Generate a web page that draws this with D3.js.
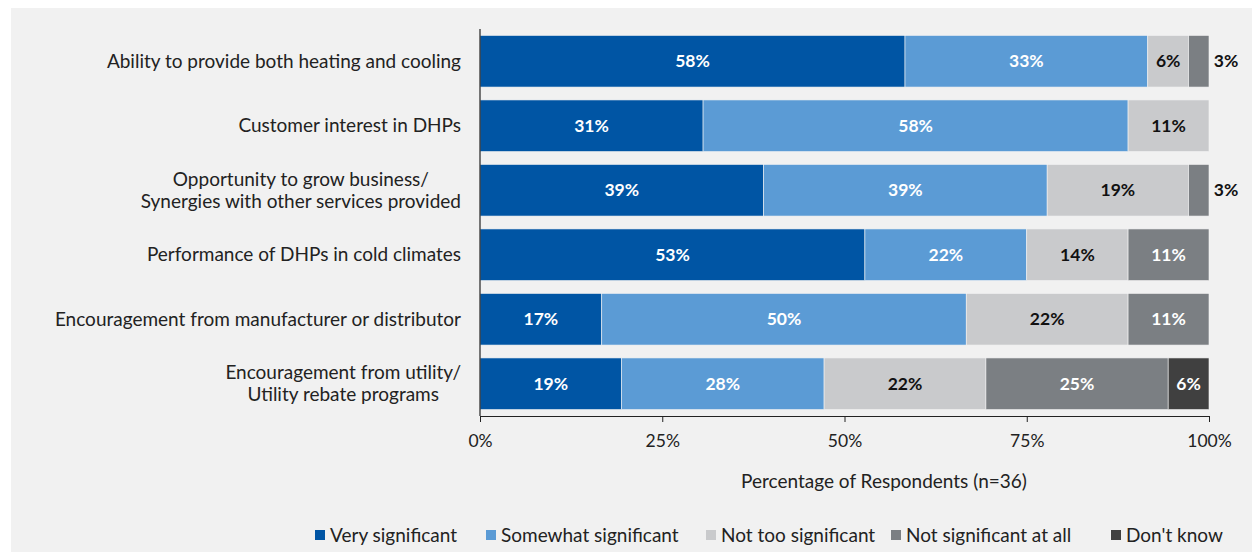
<!DOCTYPE html>
<html><head><meta charset="utf-8">
<script src="https://cdn.jsdelivr.net/npm/d3@7/dist/d3.min.js"></script>
<style>
html,body{margin:0;padding:0;background:#fff;}
svg{display:block;font-family:Lato,"Open Sans",sans-serif;}
</style></head>
<body>
<svg id="chart" width="1252" height="552"></svg>
<script>
const categories = [
  ["Ability to provide both heating and cooling"],
  ["Customer interest in DHPs"],
  ["Opportunity to grow business/", "Synergies with other services provided"],
  ["Performance of DHPs in cold climates"],
  ["Encouragement from manufacturer or distributor"],
  ["Encouragement from utility/", "Utility rebate programs"]
];
const seriesNames = ["Very significant","Somewhat significant","Not too significant","Not significant at all","Don't know"];
const verySignificant     = [58.3, 30.6, 38.9, 52.8, 16.7, 19.4];
const somewhatSignificant = [33.3, 58.3, 38.9, 22.2, 50.0, 27.8];
const notTooSignificant   = [5.6, 11.1, 19.4, 13.9, 22.2, 22.2];
const notSignificantAtAll = [2.8, 0, 2.8, 11.1, 11.1, 25.0];
const dontKnow            = [0, 0, 0, 0, 0, 5.6];
const xTicks = [0, 25, 50, 75, 100];
const axisTitle = "Percentage of Respondents (n=36)";

const colors = ["#0055A4","#5B9BD5","#C9CACC","#7B7F83","#404040"];
const labelColors = ["#fff","#fff","#111","#fff","#fff"];
const seriesVals = [verySignificant, somewhatSignificant, notTooSignificant, notSignificantAtAll, dontKnow];

const svg = d3.select("#chart");
svg.append("rect").attr("x",11).attr("y",8).attr("width",1241).attr("height",544).attr("fill","#F1F1F1");

const x = d3.scaleLinear().domain([0,100]).range([480,1209]);
const y = d3.scaleBand().domain(d3.range(categories.length)).range([29,416]).paddingInner(0.2).paddingOuter(0.1);

const rows = categories.map((c,i)=>{
  let acc = 0;
  return seriesVals.map((s,k)=>{ const v=s[i]; const seg={i,k,x0:acc,x1:acc+v,v}; acc+=v; return seg; });
});

const g = svg.append("g");
rows.forEach(r=>{
  g.selectAll(null).data(r.filter(d=>d.v>0)).enter().append("rect")
    .attr("x",d=>x(d.x0)).attr("width",d=>x(d.x1)-x(d.x0))
    .attr("y",d=>y(d.i)).attr("height",y.bandwidth())
    .attr("fill",d=>colors[d.k])
    .attr("stroke","#f4f4f4").attr("stroke-width",0.6);
  r.filter(d=>d.v>0).forEach(d=>{
    const w = x(d.x1)-x(d.x0);
    const outside = w < 25;
    g.append("text")
      .attr("x", outside ? x(100)+17 : (x(d.x0)+x(d.x1))/2)
      .attr("y", y(d.i)+y.bandwidth()/2)
      .attr("dy","0.35em").attr("text-anchor","middle")
      .attr("font-size",17.5).attr("font-weight","bold")
      .attr("fill", outside ? "#111" : labelColors[d.k])
      .text(Math.round(d.v)+"%");
  });
});

categories.forEach((lines,i)=>{
  const t = svg.append("text").attr("font-size",19).attr("fill","#222");
  const cy = y(i)+y.bandwidth()/2;
  const lh = 22;
  const spans = lines.map((l,j)=>t.append("tspan").attr("y", cy + (j-(lines.length-1)/2)*lh).attr("dy","0.35em").text(l));
  const widths = spans.map(s=>s.node().getComputedTextLength());
  const maxW = d3.max(widths);
  const right = 461;
  spans.forEach(s=>{ s.attr("x", right - maxW/2).attr("text-anchor","middle"); });
});

svg.append("line").attr("x1",480).attr("x2",480).attr("y1",29).attr("y2",416).attr("stroke","#222").attr("stroke-width",1.2);
const xAxis = svg.append("g").attr("transform","translate(0,416)")
  .call(d3.axisBottom(x).tickValues(xTicks).tickFormat(d=>d+"%").tickSize(6).tickSizeOuter(0));
xAxis.select(".domain").attr("stroke","#222");
xAxis.selectAll(".tick line").attr("stroke","#222");
xAxis.selectAll("text").attr("font-size",17.5).attr("fill","#222").attr("font-family","Lato,'Open Sans',sans-serif").attr("dy","0.35em").attr("y",25);

svg.append("text").attr("x",884).attr("y",481).attr("dy","0.35em").attr("text-anchor","middle")
  .attr("font-size",19).attr("fill","#222").text(axisTitle);

const legendX = [315, 486, 706, 891, 1111];
const lg = svg.append("g");
seriesNames.forEach((n,k)=>{
  lg.append("rect").attr("x",legendX[k]).attr("y",530).attr("width",10).attr("height",10).attr("fill",colors[k]);
  lg.append("text").attr("x",legendX[k]+15).attr("y",535).attr("dy","0.35em").attr("font-size",19).attr("fill","#222").text(n);
});
</script>
</body></html>
